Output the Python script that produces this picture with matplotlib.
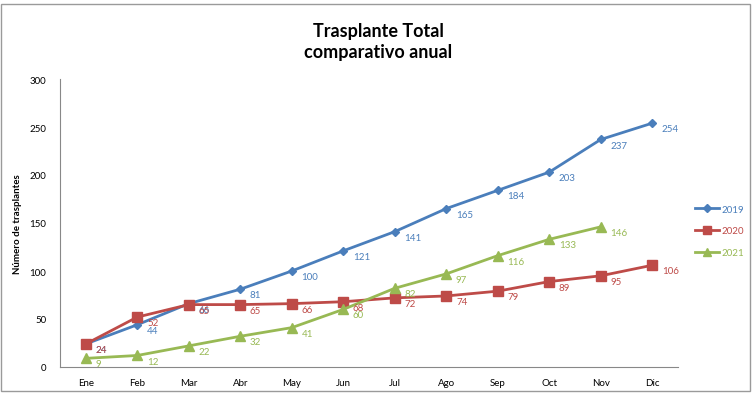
import matplotlib
matplotlib.use("Agg")
import matplotlib.pyplot as plt
from matplotlib.patches import Rectangle

months = ["Ene", "Feb", "Mar", "Abr", "May", "Jun", "Jul", "Ago", "Sep", "Oct", "Nov", "Dic"]
y2019 = [24, 44, 66, 81, 100, 121, 141, 165, 184, 203, 237, 254]
y2020 = [24, 52, 65, 65, 66, 68, 72, 74, 79, 89, 95, 106]
y2021 = [9, 12, 22, 32, 41, 60, 82, 97, 116, 133, 146]
yticks = [0, 50, 100, 150, 200, 250, 300]

W, H = 755, 406
fig = plt.figure(figsize=(W/100, H/100), dpi=100)
plt.rcParams['font.family'] = ['Lato', 'DejaVu Sans']

# outer frame
fig.patches.append(Rectangle((1/W, 1 - 392/H), 749/W, 387/H, transform=fig.transFigure,
                             fill=False, edgecolor="#9a9a9a", linewidth=1.0))

ax = fig.add_axes([60/W, 1 - 368/H, (678-60)/W, (368-80)/H])
x = list(range(len(months)))

series = [
    ("2019", y2019, "#4A7EBB", "D", 4.5),
    ("2020", y2020, "#BE4B48", "s", 6.5),
    ("2021", y2021, "#98B954", "^", 6.5),
]
for name, vals, col, mk, ms in series:
    xs = x[:len(vals)]
    ax.plot(xs, vals, color=col, marker=mk, markersize=ms, linewidth=2.0, label=name,
            markeredgecolor=col)
    for xi, v in zip(xs, vals):
        ax.annotate(str(v), (xi, v), xytext=(7, -4), textcoords="offset points",
                    fontsize=7, color=col, va="center", ha="left")

ax.set_xlim(-0.5, 11.5)
ax.set_ylim(0, 300)
ax.set_yticks(yticks)
ax.set_xticks(x)
ax.set_xticklabels(months)
ax.tick_params(axis="both", labelsize=7, length=0, pad=8)
ax.tick_params(axis="y", pad=10)
for s in ["top", "right"]:
    ax.spines[s].set_visible(False)
for s in ["left", "bottom"]:
    ax.spines[s].set_color("#888888")
    ax.spines[s].set_linewidth(0.8)
ax.set_ylabel("Número de trasplantes", fontsize=7, fontweight="bold", labelpad=5)

fig.text(378/W, 1 - 42/H, "Trasplante Total\ncomparativo anual", ha="center", va="center",
         fontsize=13, fontweight="bold", linespacing=1.35)

handles, labels = ax.get_legend_handles_labels()
fig.legend(handles, labels, loc="center left", bbox_to_anchor=(695/W, 1 - 232/H), frameon=False,
           fontsize=7, handlelength=2.5, labelspacing=1.3, handletextpad=0.2,
           borderaxespad=0, borderpad=0, labelcolor="linecolor", markerscale=0.8)
fig.savefig("out.png", dpi=100)
